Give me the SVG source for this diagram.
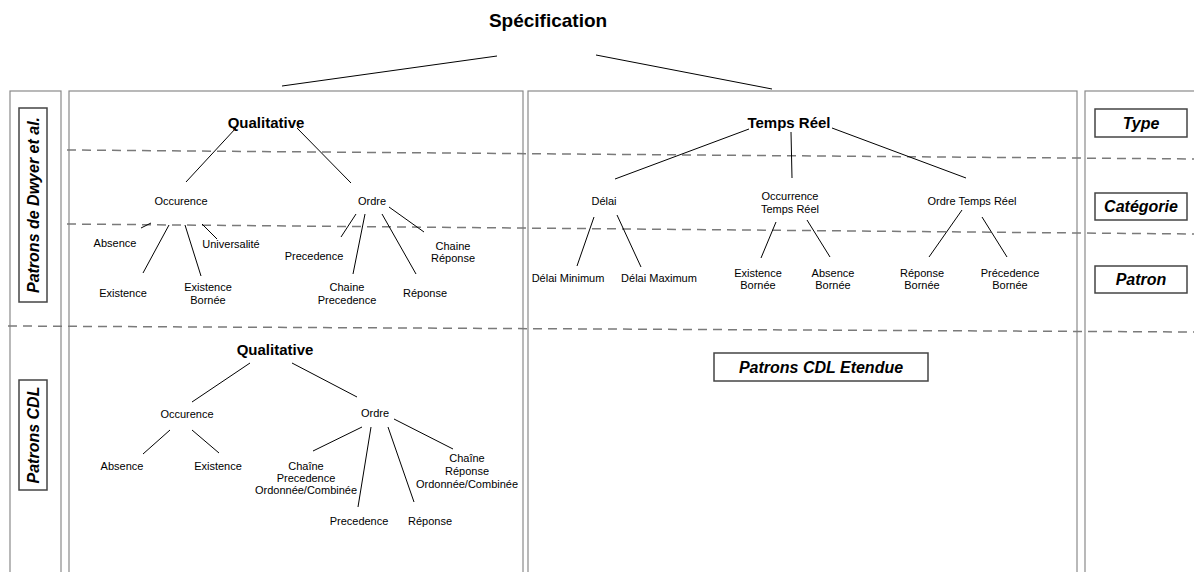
<svg xmlns="http://www.w3.org/2000/svg" width="1194" height="572" viewBox="0 0 1194 572">
  <style>
    .panel { fill: none; stroke: #8a8a8a; stroke-width: 1.2; }
    .dash { fill: none; stroke: #7a7a7a; stroke-width: 1.5; stroke-dasharray: 9 6; }
    .edge { fill: none; stroke: #000; stroke-width: 1; }
    .lbl { font-family: "Liberation Sans", Arial, sans-serif; font-size: 11px; fill: #000; text-anchor: middle; }
    .head { font-family: "Liberation Sans", Arial, sans-serif; font-size: 15px; font-weight: bold; fill: #000; text-anchor: middle; }
    .title { font-family: "Liberation Sans", Arial, sans-serif; font-size: 19px; font-weight: bold; fill: #000; text-anchor: middle; }
    .tagbox { fill: #fff; stroke: #444; stroke-width: 1.5; }
    .tag { font-family: "Liberation Sans", Arial, sans-serif; font-size: 16px; font-weight: bold; font-style: italic; fill: #000; text-anchor: middle; }
  </style>

  <rect width="1194" height="572" fill="#fff"/>

  <!-- column panels -->
  <g id="panels">
    <rect class="panel" x="10" y="91" width="51" height="500"/>
    <rect class="panel" x="69" y="91" width="454" height="500"/>
    <rect class="panel" x="528" y="91" width="549" height="500"/>
    <rect class="panel" x="1085" y="91" width="130" height="500"/>
  </g>

  <!-- level separators -->
  <g id="separators">
    <line class="dash" x1="67" y1="150" x2="1194" y2="159"/>
    <line class="dash" x1="67" y1="224" x2="1194" y2="234"/>
    <line class="dash" x1="8" y1="326" x2="1194" y2="332"/>
  </g>

  <!-- connectors -->
  <g id="connectors">
    <line class="edge" x1="497" y1="56" x2="282" y2="86"/>
    <line class="edge" x1="596" y1="55" x2="772" y2="89"/>
    <!-- Qualitative (Dwyer) -->
    <line class="edge" x1="236" y1="128" x2="186" y2="182"/>
    <line class="edge" x1="297" y1="128" x2="351" y2="183"/>
    <line class="edge" x1="151" y1="223" x2="141" y2="228"/>
    <line class="edge" x1="169" y1="225" x2="143" y2="273"/>
    <line class="edge" x1="185" y1="225" x2="201" y2="276"/>
    <line class="edge" x1="202" y1="224" x2="217" y2="239"/>
    <line class="edge" x1="356" y1="214" x2="341" y2="237"/>
    <line class="edge" x1="365" y1="214" x2="353" y2="274"/>
    <line class="edge" x1="382" y1="214" x2="416" y2="274"/>
    <line class="edge" x1="389" y1="207" x2="424" y2="232"/>
    <!-- Temps Réel -->
    <line class="edge" x1="749" y1="129" x2="615" y2="179"/>
    <line class="edge" x1="791" y1="132" x2="792" y2="178"/>
    <line class="edge" x1="832" y1="128" x2="966" y2="178"/>
    <line class="edge" x1="594" y1="217" x2="577" y2="266"/>
    <line class="edge" x1="617" y1="215" x2="641" y2="267"/>
    <line class="edge" x1="776" y1="222" x2="761" y2="258"/>
    <line class="edge" x1="807" y1="220" x2="830" y2="257"/>
    <line class="edge" x1="962" y1="210" x2="929" y2="257"/>
    <line class="edge" x1="982" y1="217" x2="1007" y2="257"/>
    <!-- Qualitative (CDL) -->
    <line class="edge" x1="250" y1="363" x2="192" y2="402"/>
    <line class="edge" x1="292" y1="363" x2="357" y2="397"/>
    <line class="edge" x1="170" y1="430" x2="143" y2="454"/>
    <line class="edge" x1="192" y1="430" x2="219" y2="453"/>
    <line class="edge" x1="362" y1="427" x2="313" y2="451"/>
    <line class="edge" x1="371" y1="427" x2="358" y2="507"/>
    <line class="edge" x1="388" y1="427" x2="414" y2="502"/>
    <line class="edge" x1="394" y1="419" x2="453" y2="449"/>
  </g>

  <!-- root -->
  <g id="specification"><text class="title" x="548" y="27">Spécification</text></g>

  <!-- row tags -->
  <g id="tag-dwyer">
    <rect class="tagbox" x="19" y="108" width="28" height="194"/>
    <text class="tag" transform="translate(39 205) rotate(-90)">Patrons de Dwyer et al.</text>
  </g>
  <g id="tag-cdl">
    <rect class="tagbox" x="19" y="380" width="28" height="110"/>
    <text class="tag" transform="translate(39 435) rotate(-90)">Patrons CDL</text>
  </g>
  <g id="tag-type">
    <rect class="tagbox" x="1095" y="109" width="92" height="28"/>
    <text class="tag" x="1141" y="129">Type</text>
  </g>
  <g id="tag-categorie">
    <rect class="tagbox" x="1095" y="193" width="92" height="27"/>
    <text class="tag" x="1141" y="212">Catégorie</text>
  </g>
  <g id="tag-patron">
    <rect class="tagbox" x="1095" y="266" width="92" height="27"/>
    <text class="tag" x="1141" y="285">Patron</text>
  </g>
  <g id="tag-cdl-etendue">
    <rect class="tagbox" x="714" y="353" width="214" height="28"/>
    <text class="tag" x="821" y="373">Patrons CDL Etendue</text>
  </g>

  <!-- Dwyer: Qualitative -->
  <g id="q1"><text class="head" x="266" y="128">Qualitative</text></g>
  <g id="q1-occurence"><text class="lbl" x="181" y="205">Occurence</text></g>
  <g id="q1-ordre"><text class="lbl" x="372" y="205">Ordre</text></g>
  <g id="q1-absence"><text class="lbl" x="115" y="247">Absence</text></g>
  <g id="q1-universalite"><text class="lbl" x="231" y="248">Universalité</text></g>
  <g id="q1-existence"><text class="lbl" x="123" y="297">Existence</text></g>
  <g id="q1-existence-bornee"><text class="lbl" x="208" y="291">Existence<tspan x="208" dy="13">Bornée</tspan></text></g>
  <g id="q1-precedence"><text class="lbl" x="314" y="260">Precedence</text></g>
  <g id="q1-chaine-precedence"><text class="lbl" x="347" y="291">Chaine<tspan x="347" dy="13">Precedence</tspan></text></g>
  <g id="q1-reponse"><text class="lbl" x="425" y="297">Réponse</text></g>
  <g id="q1-chaine-reponse"><text class="lbl" x="453" y="250">Chaine<tspan x="453" dy="12">Réponse</tspan></text></g>

  <!-- Dwyer: Temps Réel -->
  <g id="tr"><text class="head" x="789" y="128">Temps Réel</text></g>
  <g id="tr-delai"><text class="lbl" x="604" y="205">Délai</text></g>
  <g id="tr-occurrence"><text class="lbl" x="790" y="200">Occurrence<tspan x="790" dy="13">Temps Réel</tspan></text></g>
  <g id="tr-ordre"><text class="lbl" x="972" y="205">Ordre Temps Réel</text></g>
  <g id="tr-delai-min"><text class="lbl" x="568" y="282">Délai Minimum</text></g>
  <g id="tr-delai-max"><text class="lbl" x="659" y="282">Délai Maximum</text></g>
  <g id="tr-existence-bornee"><text class="lbl" x="758" y="277">Existence<tspan x="758" dy="12">Bornée</tspan></text></g>
  <g id="tr-absence-bornee"><text class="lbl" x="833" y="277">Absence<tspan x="833" dy="12">Bornée</tspan></text></g>
  <g id="tr-reponse-bornee"><text class="lbl" x="922" y="277">Réponse<tspan x="922" dy="12">Bornée</tspan></text></g>
  <g id="tr-precedence-bornee"><text class="lbl" x="1010" y="277">Précedence<tspan x="1010" dy="12">Bornée</tspan></text></g>

  <!-- CDL: Qualitative -->
  <g id="q2"><text class="head" x="275" y="355">Qualitative</text></g>
  <g id="q2-occurence"><text class="lbl" x="187" y="418">Occurence</text></g>
  <g id="q2-ordre"><text class="lbl" x="375" y="417">Ordre</text></g>
  <g id="q2-absence"><text class="lbl" x="122" y="470">Absence</text></g>
  <g id="q2-existence"><text class="lbl" x="218" y="470">Existence</text></g>
  <g id="q2-chaine-precedence"><text class="lbl" x="306" y="470">Chaîne<tspan x="306" dy="12">Precedence</tspan><tspan x="306" dy="12">Ordonnée/Combinée</tspan></text></g>
  <g id="q2-precedence"><text class="lbl" x="359" y="525">Precedence</text></g>
  <g id="q2-reponse"><text class="lbl" x="430" y="525">Réponse</text></g>
  <g id="q2-chaine-reponse"><text class="lbl" x="467" y="462">Chaîne<tspan x="467" dy="13">Réponse</tspan><tspan x="467" dy="13">Ordonnée/Combinée</tspan></text></g>
</svg>
